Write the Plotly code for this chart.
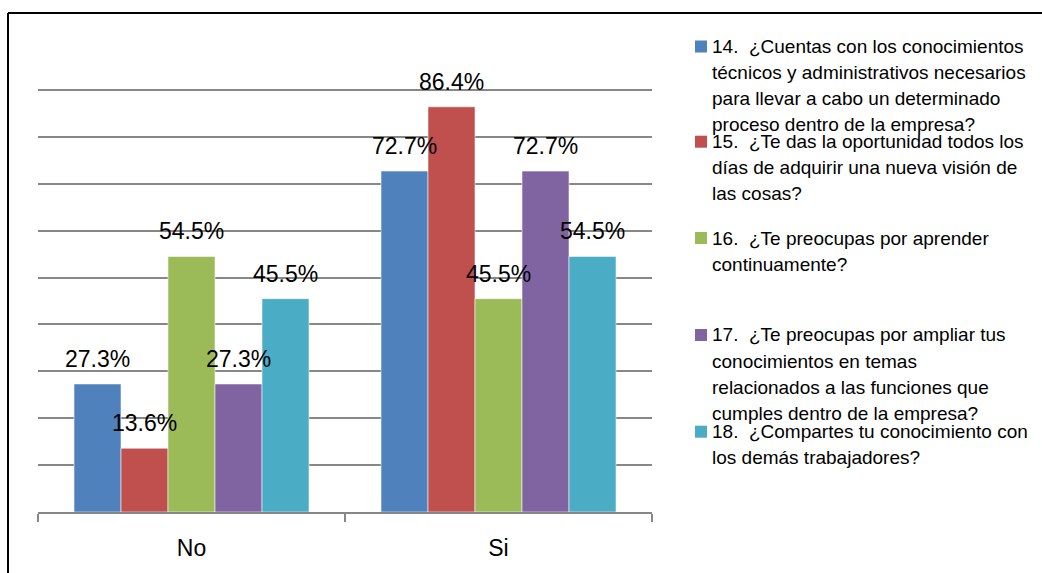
import plotly.graph_objects as go

# Categories on the x axis
categories = ["No", "Si"]

# Percentage of answers for each question
q14 = [27.3, 72.7]
q15 = [13.6, 86.4]
q16 = [54.5, 45.5]
q17 = [27.3, 72.7]
q18 = [45.5, 54.5]
series_values = [q14, q15, q16, q17, q18]

# Legend text, wrapped line by line
legend_lines = [
    ["14.  ¿Cuentas con los conocimientos",
     "técnicos y administrativos necesarios",
     "para llevar a cabo un determinado",
     "proceso dentro de la empresa?"],
    ["15.  ¿Te das la oportunidad todos los",
     "días de adquirir una nueva visión de",
     "las cosas?"],
    ["16.  ¿Te preocupas por aprender",
     "continuamente?"],
    ["17.  ¿Te preocupas por ampliar tus",
     "conocimientos en temas",
     "relacionados a las funciones que",
     "cumples dentro de la empresa?"],
    ["18.  ¿Compartes tu conocimiento con",
     "los demás trabajadores?"],
]

colors = ["#4F81BD", "#C0504D", "#9BBB59", "#8064A2", "#4BACC6"]

FONT = "Liberation Sans, Arial, sans-serif"
W, H = 1042, 573
ML, MR, MT, MB = 38, 390, 43, 61
PW, PH = W - ML - MR, H - MT - MB
BARGAP = 0.2345


def px_x(x):
    return (x - ML) / PW


def px_y(y):
    return (H - MB - y) / PH


fig = go.Figure()
for name_lines, vals, col in zip(legend_lines, series_values, colors):
    fig.add_trace(go.Bar(
        x=categories, y=vals, name=" ".join(name_lines),
        marker=dict(color=col, line=dict(color="rgba(255,255,255,0.55)", width=1)),
        showlegend=False,
    ))

# Value labels above each bar
n = len(series_values)
group_w = 1 - BARGAP
annotations = []
for j, vals in enumerate(series_values):
    for i, v in enumerate(vals):
        xc = i - group_w / 2 + (j + 0.5) * group_w / n
        annotations.append(dict(
            x=xc, y=v, xref="x", yref="y", text=f"{v:.1f}%",
            showarrow=False, xanchor="center", yanchor="bottom", yshift=10,
            font=dict(family=FONT, size=23, color="#000000"),
        ))

# Legend drawn as coloured squares with wrapped text
shapes = []
first_line_y = [46.5, 141.7, 238.0, 335.0, 431.7]
line_step = 26.0
for k, (lines, col) in enumerate(zip(legend_lines, colors)):
    y0 = first_line_y[k]
    shapes.append(dict(
        type="rect", xref="paper", yref="paper",
        x0=px_x(695), x1=px_x(707), y0=px_y(y0 + 6), y1=px_y(y0 - 6),
        fillcolor=col, line=dict(width=0),
    ))
    for m, line in enumerate(lines):
        annotations.append(dict(
            x=px_x(710), y=px_y(y0 + m * line_step), xref="paper", yref="paper",
            text=line, showarrow=False, xanchor="left", yanchor="middle",
            font=dict(family=FONT, size=19, color="#000000"),
        ))

# Chart frame
shapes.append(dict(type="line", xref="paper", yref="paper",
                   x0=px_x(8), x1=px_x(W + 5), y0=px_y(13), y1=px_y(13),
                   line=dict(color="#000000", width=2)))
shapes.append(dict(type="line", xref="paper", yref="paper",
                   x0=px_x(8), x1=px_x(8), y0=px_y(13), y1=px_y(H + 5),
                   line=dict(color="#000000", width=2)))

fig.update_layout(
    width=W, height=H, autosize=False,
    margin=dict(l=ML, r=MR, t=MT, b=MB, pad=0),
    paper_bgcolor="white", plot_bgcolor="white",
    barmode="group", bargap=BARGAP, bargroupgap=0,
    annotations=annotations, shapes=shapes,
    font=dict(family=FONT, color="#000000"),
)
fig.update_xaxes(
    showline=True, linecolor="#878787", linewidth=1.5,
    ticks="outside", tickson="boundaries", ticklen=8, tickcolor="#878787", tickwidth=1.5,
    ticklabelstandoff=15,
    tickfont=dict(family=FONT, size=23, color="#000000"),
    showgrid=False,
)
fig.update_yaxes(
    range=[0, 100.01], dtick=10, showticklabels=False,
    showgrid=True, gridcolor="#878787", gridwidth=1.5,
    zeroline=False, showline=False,
)

fig.write_html("out.html")
